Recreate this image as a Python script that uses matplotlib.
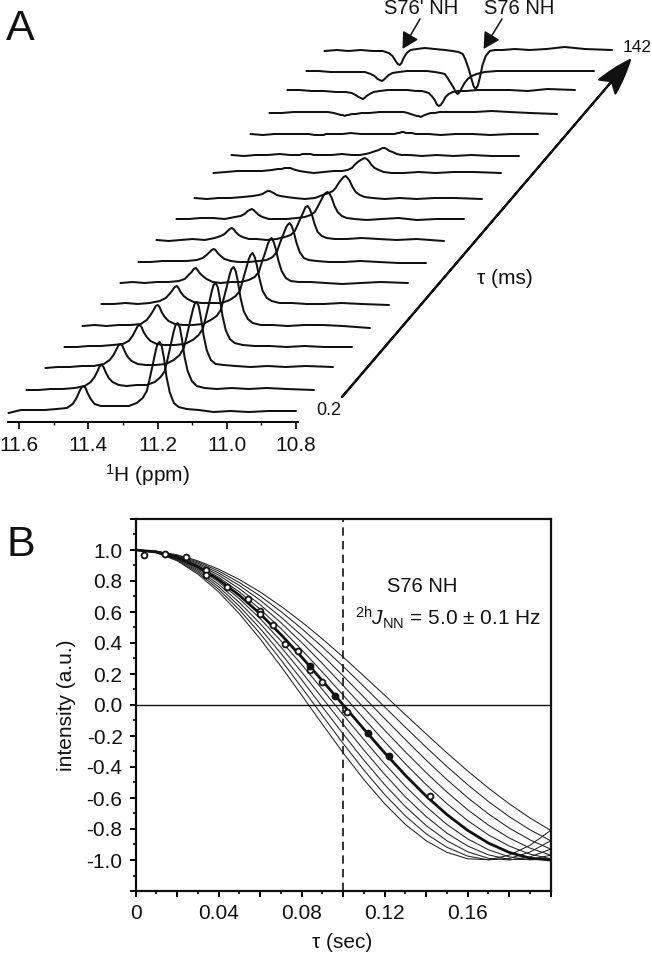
import matplotlib
matplotlib.use("Agg")
import matplotlib.pyplot as plt
import numpy as np
from matplotlib.transforms import ScaledTranslation

plt.rcParams["font.family"] = ["Liberation Sans", "DejaVu Sans"]
plt.rcParams["mathtext.fontset"] = "custom"
plt.rcParams["mathtext.rm"] = "Liberation Sans"
plt.rcParams["mathtext.it"] = "Liberation Sans:italic"
plt.rcParams["axes.unicode_minus"] = False

# ---------- Panel A data: shared ppm grid, trace heights (a.u.) ----------
ppm = [11.630, 11.595, 11.561, 11.526, 11.491, 11.462,
       11.445, 11.434, 11.425, 11.419, 11.413, 11.408, 11.402, 11.393, 11.382, 11.364,
       11.341, 11.312, 11.283,
       11.260, 11.243, 11.231, 11.223, 11.214, 11.205, 11.200, 11.194, 11.188, 11.182, 11.174, 11.165, 11.153, 11.139, 11.116,
       11.081, 11.038, 10.989, 10.937, 10.879, 10.801]
trace01 = [-1, 2, 2, 2, 3, 4,  8, 14, 21, 25, 26, 24, 19, 13, 8, 6,  6, 6, 6,  9, 14, 21, 33, 47, 62, 68, 70, 66, 55, 35, 20, 9, 5, 3,  2, 0, 1, 0, 1, 1]
trace02 = [0, 0, 1, 1, 2, 4,  8, 13, 19, 24, 25, 23, 18, 12, 8, 5,  4, 5, 5,  8, 13, 19, 31, 45, 59, 65, 67, 63, 52, 33, 19, 9, 4, 2,  1, 2, 1, 2, 1, 0]
trace03 = [0, 1, 1, 2, 2, 4,  8, 13, 19, 23, 24, 22, 17, 11, 7, 4,  3, 3, 4,  8, 13, 20, 31, 45, 58, 64, 66, 62, 51, 33, 18, 8, 4, 3,  2, 1, 2, 1, 2, 1]
trace04 = [0, 0, 1, 1, 2, 3,  6, 11, 17, 21, 22, 20, 15, 10, 6, 3,  2, 2, 3,  7, 12, 18, 29, 42, 56, 62, 64, 60, 49, 31, 17, 8, 4, 2,  1, 1, 0, 1, 0, 0]
trace05 = [0, 1, 0, 1, 1, 2,  6, 11, 16, 20, 21, 19, 14, 9, 5, 2,  1, 1, 2,  6, 10, 16, 27, 39, 52, 57, 59, 55, 45, 28, 15, 7, 3, 1,  1, 0, 1, 1, 0, -2]
trace06 = [0, 0, 1, 0, 1, 3,  6, 10, 14, 17, 18, 16, 12, 8, 5, 2,  1, 1, 1,  4, 8, 13, 23, 34, 45, 49, 51, 47, 39, 25, 13, 6, 3, 1,  1, 0, 0, 1, 0, -1]
trace07 = [0, 1, 0, 1, 1, 2,  4, 8, 11, 14, 15, 13, 10, 7, 4, 1,  0, 1, 1,  3, 6, 11, 20, 29, 39, 43, 45, 41, 34, 22, 12, 5, 2, 1,  1, 0, -1, 0, 1, 0]
trace08 = [0, 0, 1, 1, 1, 2,  4, 7, 10, 12, 13, 12, 9, 6, 3, 1,  0, 0, 1,  2, 5, 10, 18, 26, 34, 37, 39, 36, 30, 19, 10, 4, 2, 1,  0, 0, 1, 0, -1, -1]
trace09 = [0, -1, 0, 1, 0, 2,  4, 6, 9, 11, 12, 11, 8, 5, 3, 1,  1, 0, 1,  3, 5, 9, 15, 22, 29, 33, 34, 31, 26, 16, 8, 4, 2, 1,  1, 2, 1, 0, 1, -1]
trace10 = [0, 0, 1, 1, 0, 2,  3, 5, 8, 9, 10, 9, 7, 4, 2, 0,  0, 0, 1,  2, 4, 7, 12, 18, 24, 26, 27, 25, 21, 13, 7, 3, 1, 0,  -1, 0, 1, -1, 0, 0]
trace11 = [0, -1, 0, 0, 1, 2,  3, 4, 6, 7, 7, 6, 5, 3, 2, 1,  0, -1, 0,  3, 5, 7, 10, 15, 19, 21, 22, 20, 17, 11, 6, 3, 1, 0,  -1, 0, -1, 0, 0, -1]
trace12 = [-1, 0, 1, 1, 1, 2,  3, 3, 4, 4, 4, 4, 3, 2, 1, 0,  -1, 0, 1,  1, 2, 4, 7, 10, 12, 13, 14, 13, 11, 7, 4, 2, 0, -1,  -1, 0, -1, 0, 0, -1]
trace13 = [0, -1, 0, 0, 1, 0,  0, 0, 1, 1, 1, 1, 1, 0, 0, 0,  0, 1, 0,  0, 1, 2, 3, 4, 5, 6, 7, 7, 6, 4, 3, 1, 0, 0,  -1, 0, -1, 0, -1, -1]
trace14 = [0, -1, 0, 0, 0, 0,  -1, -1, -1, -1, 0, 0, 0, 0, 0, 0,  1, 0, 0,  0, 0, 0, 0, 0, 1, 1, 2, 2, 1, 1, 1, 0, 0, 0,  -1, 0, 0, -1, 0, 0]
trace15 = [0, 0, 1, 1, 1, 1,  0, -1, -2, -2, -3, -2, -2, -1, -1, 0,  0, 1, 1,  1, 1, 0, -1, -2, -3, -3, -4, -3, -2, -1, 0, 0, 1, 1,  1, 1, 2, 1, 0, -1]
trace16 = [0, 0, -1, -1, -2, -2,  -3, -5, -7, -8, -9, -8, -6, -4, -2, -1,  0, 0, 0,  -1, -1, -2, -3, -6, -10, -14, -16, -15, -12, -7, -4, -2, -1, -1,  0, 0, 0, -1, 1, 0]
trace17 = [0, 0, -1, -1, -1, -1,  -3, -5, -8, -9, -10, -9, -7, -4, -2, -1,  0, 0, 0,  -1, -2, -3, -7, -12, -17, -21, -23, -21, -17, -12, -8, -5, -3, -1,  0, 0, 0, 0, 0, 0]
trace18 = [-1, 0, -1, 0, -1, -1,  -3, -6, -11, -14, -15, -13, -8, -3, 0, 1,  2, 1, 0,  -1, -2, -4, -10, -19, -30, -36, -39, -36, -28, -15, -6, -1, 0, 0,  1, 0, 1, 3, 1, 0]
traces = [trace01, trace02, trace03, trace04, trace05, trace06, trace07, trace08, trace09,
          trace10, trace11, trace12, trace13, trace14, trace15, trace16, trace17, trace18]
ppm_ticks = [11.6, 11.4, 11.2, 11.0, 10.8]
ppm_tick_labels = ["11.6", "11.4", "11.2", "11.0", "10.8"]
ppm_minor = [11.5, 11.3, 11.1, 10.9]

# ---------- Panel B data ----------
tau = [0, .01, .02, .03, .04, .05, .06, .07, .08, .09, .10,
       .11, .12, .13, .14, .15, .16, .17, .18, .19, .20]
curve_a = [1, .992, .969, .930, .876, .809, .729, .637, .536, .426, .309, .187, .063, -.063, -.187, -.309, -.426, -.536, -.637, -.729, -.809]
curve_b = [1, .991, .965, .923, .864, .790, .703, .603, .493, .374, .249, .119, -.013, -.144, -.273, -.397, -.514, -.623, -.720, -.805, -.876]
curve_c = [1, .990, .962, .915, .851, .771, .676, .567, .448, .321, .187, .050, -.088, -.224, -.356, -.482, -.598, -.703, -.794, -.870, -.930]
curve_d = [1, .990, .959, .907, .838, .750, .647, .531, .403, .267, .125, -.019, -.163, -.303, -.437, -.562, -.676, -.775, -.858, -.923, -.969]
curve_e = [1, .989, .955, .899, .824, .729, .618, .493, .356, .212, .063, -.088, -.237, -.380, -.514, -.637, -.746, -.838, -.910, -.962, -.992]
curve_best = [1, .988, .951, .891, .809, .707, .588, .454, .309, .156, 0, -.156, -.309, -.454, -.588, -.707, -.809, -.891, -.951, -.988, -1]
curve_g = [1, .987, .947, .882, .794, .685, .557, .414, .261, .100, -.063, -.224, -.380, -.525, -.656, -.771, -.864, -.934, -.980, -.999, -.992]
curve_h = [1, .986, .943, .873, .778, .661, .525, .374, .212, .044, -.125, -.291, -.448, -.593, -.720, -.827, -.910, -.967, -.996, -.997, -.969]
curve_i = [1, .985, .939, .864, .762, .637, .493, .333, .163, -.013, -.187, -.356, -.514, -.656, -.778, -.876, -.947, -.989, -1, -.980, -.930]
curve_j = [1, .983, .934, .854, .746, .613, .460, .291, .113, -.069, -.249, -.420, -.578, -.716, -.831, -.918, -.975, -.999, -.990, -.949, -.876]
curve_k = [1, .982, .930, .844, .729, .588, .426, .249, .063, -.125, -.309, -.482, -.637, -.771, -.876, -.951, -.992, -.998, -.969, -.905, -.809]
thin_curves = [curve_a, curve_b, curve_c, curve_d, curve_e, curve_g, curve_h, curve_i, curve_j, curve_k]

open_tau = [.004, .014, .024, .034, .034, .044, .054, .060, .060, .066, .072, .078, .084, .090, .102, .142]
open_int = [.97, .975, .953, .868, .836, .761, .686, .605, .585, .514, .392, .349, .225, .146, -.043, -.585]
full_tau = [.084, .096, .112, .122]
full_int = [.253, .058, -.182, -.332]

y_ticks = [1.0, .8, .6, .4, .2, 0, -.2, -.4, -.6, -.8, -1.0]
y_tick_labels = ["1.0", "0.8", "0.6", "0.4", "0.2", "0.0", "-0.2", "-0.4", "-0.6", "-0.8", "-1.0"]
x_tick_values = [0, .04, .08, .12, .16]
x_tick_labels = ["0", "0.04", "0.08", "0.12", "0.16"]

# ---------- Layout ----------
W, H, DPI = 652, 955, 100
fig = plt.figure(figsize=(W / DPI, H / DPI), dpi=DPI, facecolor="white")


def rect(l, t, r, b):
    return [l / W, 1 - b / H, (r - l) / W, (b - t) / H]


def ftext(x, y, s, **kw):
    kw.setdefault("ha", "center")
    kw.setdefault("va", "center")
    kw.setdefault("fontsize", 15)
    kw.setdefault("color", "#111111")
    return fig.text(x / W, 1 - y / H, s, **kw)


# ---------- Panel A ----------
axA = fig.add_axes(rect(0, 0, W, 422.5), facecolor="none")
axA.set_xlim(11.655, 9.772)
axA.set_ylim(-10.5, 412)
start_px = [10, 28, 47, 66, 84, 103, 122, 140, 158, 178, 196, 215, 233, 252, 271, 289, 308, 326]
base_px = [412, 390, 368, 347, 326, 304, 283, 262, 240, 219, 198, 172, 155, 134, 113, 90, 71, 50]
for h, sx, by in zip(traces, start_px, base_px):
    off = ScaledTranslation((sx - 10) / DPI, (412 - by) / DPI, fig.dpi_scale_trans)
    axA.plot(ppm, h, color="#111111", lw=1.45, solid_joinstyle="round",
             transform=axA.transData + off, clip_on=False)
for s in ("top", "left", "right"):
    axA.spines[s].set_visible(False)
axA.spines["bottom"].set_bounds(11.632, 10.794)
axA.spines["bottom"].set_linewidth(1.4)
axA.set_yticks([])
axA.set_xticks(ppm_ticks)
axA.set_xticklabels(ppm_tick_labels, fontsize=15, color="#111111")
axA.set_xticks(ppm_minor, minor=True)
axA.tick_params(axis="x", which="major", length=5, width=1.2, pad=5)
axA.tick_params(axis="x", which="minor", length=2.5, width=1.0)

ftext(20, 29, "A", fontsize=31)
ftext(421, 9, "S76' NH", fontsize=14.5)
ftext(519, 9, "S76 NH", fontsize=14.5)
ftext(637, 48, "142", fontsize=12.5)
ftext(329, 410, "0.2", fontsize=13)
ftext(505, 278, "τ (ms)", fontsize=15)
ftext(147, 475, r"$^{\mathrm{1}}$H (ppm)", fontsize=15)


def arrow(x0, y0, x1, y1, style, lw, ms):
    fig.add_artist(matplotlib.patches.FancyArrowPatch(
        (x0 / W, 1 - y0 / H), (x1 / W, 1 - y1 / H), transform=fig.transFigure,
        arrowstyle=style, lw=lw, mutation_scale=ms, color="#111111", shrinkA=0, shrinkB=0))


arrow(420, 19, 402.5, 49, "-|>,head_length=0.55,head_width=0.3", 1.1, 18)
arrow(502, 19, 483.6, 49, "-|>,head_length=0.55,head_width=0.3", 1.1, 18)
arrow(342, 397, 630, 60, "fancy,head_length=0.9,head_width=0.55,tail_width=0.01", 1.5, 28)

# ---------- Panel B ----------
axB = fig.add_axes(rect(135.7, 519, 550.7, 891), facecolor="none")
axB.set_xlim(0, 0.2)
axB.set_ylim(-1.2, 1.2)
for c in thin_curves:
    axB.plot(tau, c, color="#222222", lw=0.75)
axB.plot(tau, curve_best, color="#111111", lw=2.0)
axB.axhline(0, color="#111111", lw=1.0)
axB.axvline(0.1, color="#111111", lw=1.2, ls=(0, (5, 3.2)))
axB.plot(open_tau, open_int, ls="none", marker="o", ms=4.2, mfc="white", mec="#111111", mew=1.3, zorder=5)
axB.plot(full_tau, full_int, ls="none", marker="o", ms=4.6, mfc="#111111", mec="#111111", zorder=5)
for s in axB.spines.values():
    s.set_linewidth(1.6)
    s.set_color("#111111")
axB.set_yticks(y_ticks + [1.2, -1.2])
axB.set_yticklabels(y_tick_labels + ["", ""], fontsize=15, color="#111111")
axB.set_yticks([1.1, .9, .7, .5, .3, .1, -.1, -.3, -.5, -.7, -.9, -1.1], minor=True)
axB.set_xticks(x_tick_values + [.02, .06, .10, .14, .18, .20])
axB.set_xticklabels(x_tick_labels + [""] * 6, fontsize=15, color="#111111")
axB.set_xticks([.01, .03, .05, .07, .09, .11, .13, .15, .17, .19], minor=True)
axB.tick_params(axis="both", which="major", length=4.5, width=1.4, pad=5)
axB.tick_params(axis="both", which="minor", length=2.5, width=1.2)
axB.set_xlabel("τ (sec)", fontsize=15, color="#111111")
axB.set_ylabel("intensity (a.u.)", fontsize=15, color="#111111")
axB.xaxis.set_label_coords(342 / W, 1 - 942 / H, transform=fig.transFigure)
axB.yaxis.set_label_coords(67 / W, 1 - 705 / H, transform=fig.transFigure)
axB.xaxis.label.set_verticalalignment("center")
axB.yaxis.label.set_verticalalignment("center")

ftext(21, 545, "B", fontsize=31)
ftext(422, 586, "S76 NH", fontsize=14.5)
ftext(448, 618, r"$^{\mathrm{2h}}\mathit{J}_{\mathrm{NN}}$ = 5.0 ± 0.1 Hz", fontsize=15)

fig.savefig("out.png", dpi=DPI, facecolor="white")
